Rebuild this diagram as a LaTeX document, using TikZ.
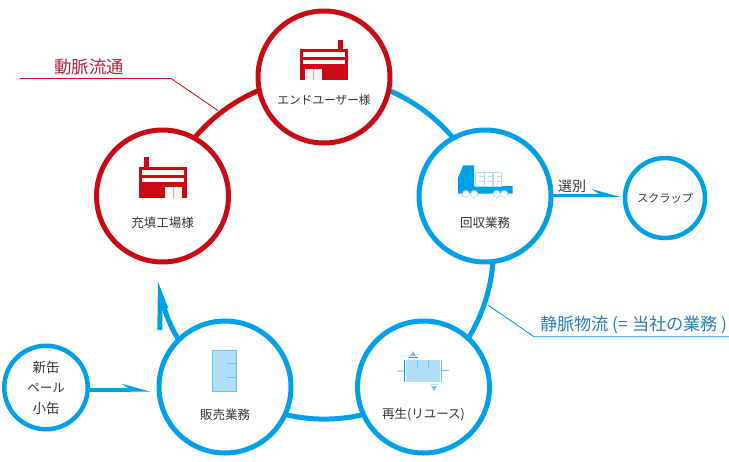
\documentclass[tikz,border=0pt]{standalone}
\usepackage{fontspec}
\setmainfont{Noto Sans CJK JP}
\usetikzlibrary{backgrounds}
\definecolor{ringred}{HTML}{C90A14}
\definecolor{ringblue}{HTML}{00A0E9}
\definecolor{paleblue}{HTML}{B2DFF7}
\definecolor{midblue}{HTML}{6CC4EF}
\definecolor{textgray}{HTML}{333333}
\definecolor{venousblue}{HTML}{2A7DB8}
\definecolor{arterialred}{HTML}{B0243A}
\tikzset{
    redring/.style={circle, draw=ringred, line width=5pt, fill=white, minimum size=132pt, inner sep=0pt},
    bluering/.style={circle, draw=ringblue, line width=5pt, fill=white, minimum size=132pt, inner sep=0pt},
    smallring/.style={circle, draw=ringblue, line width=4.5pt, fill=white, minimum size=83.5pt, inner sep=0pt},
    redarc/.style={draw=ringred, line width=5pt},
    bluearc/.style={draw=ringblue, line width=5pt},
    feedline/.style={draw=ringblue, line width=3.4pt},
    caption/.style={text=textgray, font=\fontsize{12.5}{15}\selectfont, inner sep=0pt},
    factory/.pic={
        \fill[ringred] (-24,0) rectangle (24,31);
        \fill[ringred] (14,0) rectangle (18.5,-9.5);
        \fill[white] (-21,3.3) rectangle (21,8.3);
        \fill[white] (-21,11) rectangle (21,15.3);
        \fill[white!92!gray] (-19.5,20) rectangle (-2.5,31);
        \draw[ringred!35, line width=0.6pt] (-11,20) -- (-11,31);
    },
}
\begin{document}
\begin{tikzpicture}[x=1pt, y=-1pt]
    \useasboundingbox (0,0) rectangle (729,461);

    \node[redring] (user) at (324,77) {};
    \node[redring] (filling) at (162.5,196) {};
    \node[bluering] (collect) at (485,196) {};
    \node[bluering] (reuse) at (423.5,387) {};
    \node[bluering] (sales) at (225,387) {};
    \node[smallring] (newcan) at (46,387.5) {};
    \node[smallring, minimum size=80pt] (scrap) at (665,198) {};

    \coordinate (returntip) at (158,282);
    \coordinate (scraptip) at (620.5,197);
    \coordinate (salestip) at (150.5,391.7);

    % ring between the circles
    \begin{scope}[on background layer]
        \draw[redarc] (filling.center) to[bend left=36, looseness=0.94] (user.center);
        \draw[bluearc] (user.center) to[bend left=36, looseness=0.94] (collect.center);
        \draw[bluearc] (collect.center) to[bend left=36, looseness=0.94] (reuse.center);
        \draw[bluearc] (reuse.center) to[bend left=36, looseness=0.94] (sales.center);
        \draw[bluearc] (sales.center) to[bend left=21, looseness=0.88] ([xshift=5pt,yshift=-22pt]returntip);
        \fill[ringblue] (returntip) -- ++(-0.7,48) -- ++(5,0) -- ++(0,-20) -- ++(6,-2) -- cycle;
        \draw[feedline] (collect.center |- scraptip) ++(0,-1.7) -- ([shift={(-20,-1.7)}]scraptip);
        \draw[feedline] (newcan.center |- salestip) ++(0,-1.7) -- ([shift={(-20,-1.7)}]salestip);
    \end{scope}
    \foreach \tip in {scraptip, salestip} {
        \fill[ringblue] (\tip) -- ++(-29,-8) -- ++(7,4.6) -- ++(0,3.4) -- cycle;
    }

    % captions
    \node[caption, font=\fontsize{11.7}{15}\selectfont] (usertext) at (324,100) {エンドユーザー様};
    \node[caption] (fillingtext) at (162.5,222.7) {充填工場様};
    \node[caption] (collecttext) at (485,222.7) {回収業務};
    \node[caption] (reusetext) at (423.5,414) {再生(リユース)};
    \node[caption] (salestext) at (225,415) {販売業務};
    \node[caption, font=\fontsize{13.5}{15}\selectfont] (newtext) at (46,367.7) {新缶};
    \node[caption] (pailtext) at (46,388) {ペール};
    \node[caption, font=\fontsize{13.5}{15}\selectfont] (smalltext) at (46,408.5) {小缶};
    \node[caption, font=\fontsize{11.2}{15}\selectfont] (scraptext) at (665,198) {スクラップ};
    \node[caption, font=\fontsize{14}{15}\selectfont] (sorttext) at (572,186) {選別};

    % leader lines
    \coordinate (redstart) at (20,78.5);
    \coordinate (redbend) at (171,78.5);
    \coordinate (redend) at (218,110.5);
    \coordinate (bluestart) at (488,305);
    \coordinate (bluebend) at (534,336.7);
    \coordinate (blueend) at (729,336.7);
    \draw[ringred, line width=0.8pt] (redstart) -- (redbend) -- (redend);
    \draw[ringblue, line width=0.9pt] (bluestart) -- (bluebend) -- (blueend);
    \node[text=arterialred, font=\fontsize{17.4}{20}\selectfont, inner sep=0pt] (arterial) at (89,67) {動脈流通};
    \node[text=venousblue, font=\fontsize{17.2}{20}\selectfont, inner sep=0pt] (venous) at (634,325) {静脈物流 (= 当社の業務 )};

    % icons
    \pic (factorya) at (324.3,49) {factory};
    \pic[xscale=-1] (factoryb) at (162.5,166.7) {factory};

    % truck
    \fill[ringblue] (463,165.3) -- (474,165.3) -- (474,186) -- (512.7,186) -- (512.7,193.5) -- (458,193.5) -- (458,178) -- cycle;
    \foreach \x in {475.7, 484.6, 493.5} {
        \draw[paleblue, fill=white, line width=0.7pt] (\x,172.3) rectangle ++(8.2,13.7);
        \draw[paleblue, line width=0.7pt] (\x+3.5,176.5) -- ++(4.7,0);
        \draw[paleblue, line width=0.7pt] (\x+3.5,181) -- ++(4.7,0);
    }
    \foreach \x in {466, 474.3, 496.7, 504.3} {
        \draw[paleblue, fill=white, line width=0.7pt] (\x,194) circle (3.6);
    }

    % tank
    \fill[paleblue] (405.7,360) rectangle (440,381.7);
    \draw[ringblue, line width=1pt] (404.5,360) -- (404.5,381.7);
    \draw[midblue, line width=1pt] (441.3,360) -- (441.3,381.7);
    \draw[paleblue, line width=1.2pt] (397,371) -- (404,371);
    \draw[midblue, line width=0.8pt] (442,370.5) -- (449,370.5);
    \draw[midblue, line width=0.7pt] (417.3,360) -- (417.3,368);
    \draw[midblue, line width=0.7pt] (428.3,360) -- (428.3,368);
    \fill[midblue] (410,356) -- (416,356) -- (413,351) -- cycle;
    \draw[ringblue, line width=1pt] (408.5,357.4) -- (417.5,357.4);
    \draw[paleblue, line width=1pt] (430,384.3) -- (438,384.3);
    \fill[midblue] (431,386) -- (437,386) -- (434,391) -- cycle;

    % pail
    \fill[paleblue] (212.5,350) rectangle (236.5,391);
    \draw[midblue, line width=0.6pt] (212.5,350) rectangle (236.5,391);
    \draw[midblue, line width=0.7pt] (227.3,363.3) -- (236.5,363.3);
    \draw[midblue, line width=0.7pt] (227.3,377.3) -- (236.5,377.3);
\end{tikzpicture}
\end{document}
